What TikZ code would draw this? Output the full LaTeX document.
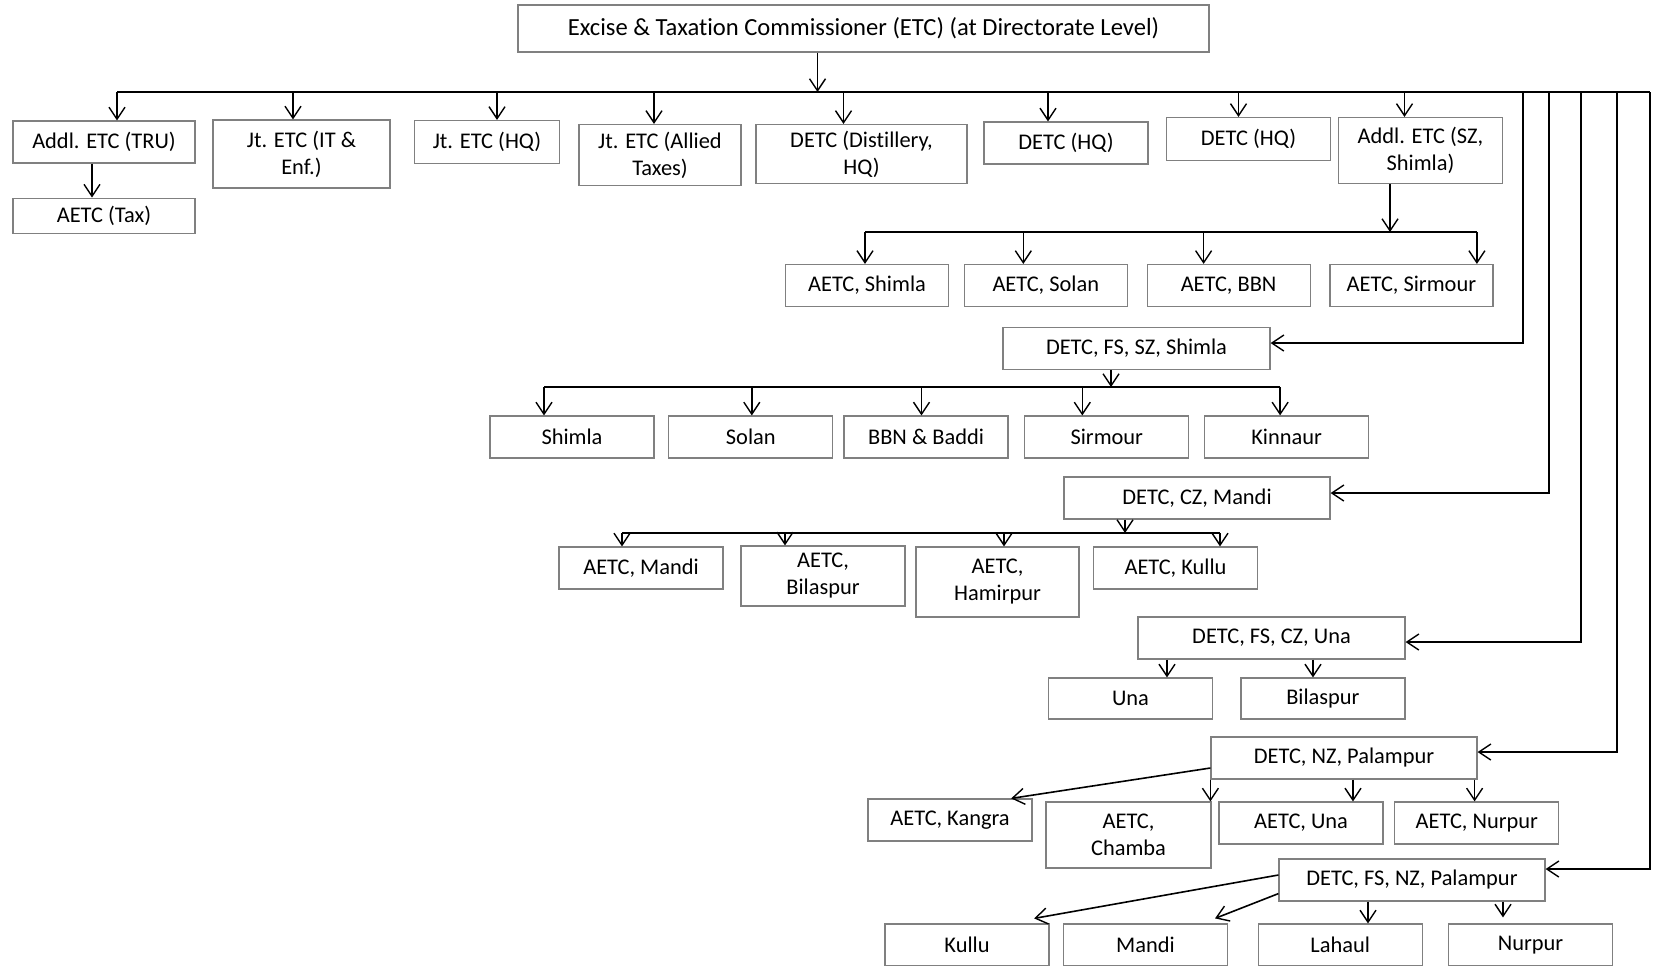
\documentclass[tikz,border=0pt]{standalone}
\usepackage{fontspec}
\setmainfont{Carlito}[Ligatures={NoCommon,NoContextual}]
\usetikzlibrary{arrows.meta,positioning}

\begin{document}
\begin{tikzpicture}[
    x=0.5pt, y=-0.5pt,
    node distance=8pt and 10pt,
    postbox/.style={draw=black!50, line width=0.6pt, rectangle, minimum width=82pt, minimum height=21pt, inner sep=1pt, font=\fontsize{11.2}{13.5}\selectfont, align=center},
    zonebox/.style={postbox, minimum width=133pt},
    wire/.style={line width=0.8pt},
    arrow/.style={wire, -{Straight Barb[length=6pt,width=8pt,line width=0.7pt]}}
]
\useasboundingbox (0,0) rectangle (1654,965);

% Directorate
\node[postbox, minimum width=345.5pt, minimum height=23.5pt, font=\fontsize{12.3}{14}\selectfont] (etc) at (863.5,28.5) {Excise \& Taxat\kern0pt ion Commissioner (ETC) (at Directorate Level)};

% First level
\node[postbox, minimum width=91pt] (tru) at (104,142) {Addl. ETC (TRU)};
\node[postbox, minimum width=91pt, minimum height=17.5pt, below=17pt of tru] (aetctax) {AETC (Tax)};
\node[postbox, minimum width=88.5pt, minimum height=34pt] (itenf) at (301.5,154) {Jt. ETC (IT \&\\Enf.)};
\node[postbox, minimum width=72.5pt, minimum height=21.5pt] (jthq) at (487,142) {Jt. ETC (HQ)};
\node[postbox, minimum width=81pt, minimum height=30.5pt] (allied) at (660,155) {Jt. ETC (Allied\\Taxes)};
\node[postbox, minimum width=105.5pt, minimum height=29.5pt] (distil) at (861.5,154) {DETC (Distillery,\\HQ)};
\node[postbox] (detchq) at (1066,143) {DETC (HQ)};
\node[postbox, minimum height=21.5pt] (detchqb) at (1248.5,139) {DETC (HQ)};
\node[postbox, minimum height=33pt] (addlsz) at (1420.5,150.5) {Addl. ETC (SZ,\\Shimla)};

% South zone AETCs
\node[postbox, minimum width=81.5pt] (aetcshimla) at (867,285.5) {AETC, Shimla};
\node[postbox, minimum width=81.5pt, right=7.3pt of aetcshimla] (aetcsolan) {AETC, Solan};
\node[postbox, minimum width=81.5pt, right=9.3pt of aetcsolan] (aetcbbn) {AETC, BBN};
\node[postbox, minimum width=81.5pt, right=9.3pt of aetcbbn] (aetcsirmour) {AETC, Sirmour};

% Flying squad, south zone
\node[zonebox, minimum width=133.5pt] (fssz) at (1136.5,348.5) {DETC, FS, SZ, Shimla};
\node[postbox] (shimla) at (572,437) {Shimla};
\node[postbox, right=6.8pt of shimla] (solan) {Solan};
\node[postbox, right=5pt of solan] (bbnbaddi) {BBN \& Baddi};
\node[postbox, right=7.8pt of bbnbaddi] (sirmour) {Sirmour};
\node[postbox, right=7.3pt of sirmour] (kinnaur) {Kinnaur};

% Central zone
\node[zonebox] (cz) at (1197,498) {DETC, CZ, Mandi};
\node[postbox] (aetcmandi) at (641,568) {AETC, Mandi};
\node[postbox, minimum height=30pt] (aetcbilaspur) at (823,576) {AETC,\\Bilaspur};
\node[postbox, minimum width=81.5pt, minimum height=35pt] (aetchamirpur) at (997.5,582) {AETC,\\Hamirpur};
\node[postbox] (aetckullu) at (1175.5,568) {AETC, Kullu};

% Flying squad, central zone
\node[zonebox, minimum width=133.5pt] (fscz) at (1271.5,638) {DETC, FS, CZ, Una};
\node[postbox, minimum height=20.5pt] (una) at (1130.5,698.5) {Una};
\node[postbox, minimum height=20.5pt, right=13.6pt of una] (bilaspur) {Bilaspur};

% North zone
\node[zonebox] (nz) at (1344,758) {DETC, NZ, Palampur};
\node[postbox] (kangra) at (950,820) {AETC, Kangra};
\node[postbox, minimum width=82.5pt, minimum height=33pt] (chamba) at (1128.5,835) {AETC,\\Chamba};
\node[postbox] (aetcuna) at (1301,823) {AETC, Una};
\node[postbox, right=5.3pt of aetcuna] (aetcnurpur) {AETC, Nurpur};

% Flying squad, north zone
\node[zonebox] (fsnz) at (1412,880) {DETC, FS, NZ, Palampur};
\node[postbox] (kullu) at (967,945) {Kullu};
\node[postbox, right=6.6pt of kullu] (mandi) {Mandi};
\node[postbox, right=14.8pt of mandi] (lahaul) {Lahaul};
\node[postbox, right=12.6pt of lahaul] (nurpur) {Nurpur};

% Main bus
\coordinate (busa) at (0,92);
\coordinate (feeda) at (1523,92);
\coordinate (feedb) at (1549,92);
\coordinate (feedc) at (1581,92);
\coordinate (feedd) at (1617,92);
\coordinate (feede) at (1650,92);
\draw[arrow] ([xshift=-23pt]etc.south) -- ([xshift=-23pt]etc.south |- busa);
\draw[wire] ([xshift=6.5pt]tru.north |- busa) -- (feede);
\draw[arrow] ([xshift=6.5pt]tru.north |- busa) -- ([xshift=6.5pt]tru.north);
\draw[arrow] ([xshift=-4.25pt]itenf.north |- busa) -- ([xshift=-4.25pt]itenf.north);
\draw[arrow] ([xshift=5pt]jthq.north |- busa) -- ([xshift=5pt]jthq.north);
\draw[arrow] ([xshift=-3pt]allied.north |- busa) -- ([xshift=-3pt]allied.north);
\draw[arrow] ([xshift=-9pt]distil.north |- busa) -- ([xshift=-9pt]distil.north);
\draw[arrow] ([xshift=-9pt]detchq.north |- busa) -- ([xshift=-9pt]detchq.north);
\draw[arrow] ([xshift=-5pt]detchqb.north |- busa) -- ([xshift=-5pt]detchqb.north);
\draw[arrow] ([xshift=-8pt]addlsz.north |- busa) -- ([xshift=-8pt]addlsz.north);
\draw[arrow] ([xshift=-6pt]tru.south) -- ([xshift=-6pt]aetctax.north);

% Feeders on the right
\draw[arrow] (feeda) |- ([yshift=2.75pt]fssz.east);
\draw[arrow] (feedb) |- ([yshift=2.5pt]cz.east);
\draw[arrow] (feedc) |- ([yshift=-2pt]fscz.east);
\draw[arrow] (feedd) |- ([yshift=3pt]nz.east);
\draw[arrow] (feede) |- ([yshift=5.5pt]fsnz.east);

% South zone links
\coordinate (busb) at (0,232);
\draw[arrow] ([xshift=-15.25pt]addlsz.south) -- ([xshift=-15.25pt]addlsz.south |- busb);
\draw[wire] ([xshift=-1pt]aetcshimla.north |- busb) -- ([xshift=32.75pt]aetcsirmour.north |- busb);
\draw[arrow] ([xshift=-1pt]aetcshimla.north |- busb) -- ([xshift=-1pt]aetcshimla.north);
\draw[arrow] ([xshift=-11.25pt]aetcsolan.north |- busb) -- ([xshift=-11.25pt]aetcsolan.north);
\draw[arrow] ([xshift=-12.5pt]aetcbbn.north |- busb) -- ([xshift=-12.5pt]aetcbbn.north);
\draw[arrow] ([xshift=32.75pt]aetcsirmour.north |- busb) -- ([xshift=32.75pt]aetcsirmour.north);

\coordinate (busc) at (0,387);
\draw[arrow] ([xshift=-12.75pt]fssz.south) -- ([xshift=-12.75pt]fssz.south |- busc);
\draw[wire] ([xshift=-14pt]shimla.north |- busc) -- ([xshift=-3.25pt]kinnaur.north |- busc);
\draw[arrow] ([xshift=-14pt]shimla.north |- busc) -- ([xshift=-14pt]shimla.north);
\draw[arrow] ([xshift=0.5pt]solan.north |- busc) -- ([xshift=0.5pt]solan.north);
\draw[arrow] ([xshift=-2.25pt]bbnbaddi.north |- busc) -- ([xshift=-2.25pt]bbnbaddi.north);
\draw[arrow] ([xshift=-12.25pt]sirmour.north |- busc) -- ([xshift=-12.25pt]sirmour.north);
\draw[arrow] ([xshift=-3.25pt]kinnaur.north |- busc) -- ([xshift=-3.25pt]kinnaur.north);

% Central zone links
\coordinate (busd) at (0,533);
\draw[arrow] ([xshift=-36pt]cz.south) -- ([xshift=-36pt]cz.south |- busd);
\draw[wire] ([xshift=-9.5pt]aetcmandi.north |- busd) -- ([xshift=22.25pt]aetckullu.north |- busd);
\draw[arrow] ([xshift=-9.5pt]aetcmandi.north |- busd) -- ([xshift=-9.5pt]aetcmandi.north);
\draw[arrow] ([xshift=-19pt]aetcbilaspur.north |- busd) -- ([xshift=-19pt]aetcbilaspur.north);
\draw[arrow] ([xshift=3.25pt]aetchamirpur.north |- busd) -- ([xshift=3.25pt]aetchamirpur.north);
\draw[arrow] ([xshift=22.25pt]aetckullu.north |- busd) -- ([xshift=22.25pt]aetckullu.north);
\draw[arrow] ([xshift=-52.25pt]fscz.south) -- ([xshift=-52.25pt]fscz.south |- una.north);
\draw[arrow] ([xshift=20.75pt]fscz.south) -- ([xshift=20.75pt]fscz.south |- bilaspur.north);

% North zone links
\draw[arrow] ([yshift=-5pt]nz.west) -- ([xshift=-10.75pt]kangra.north east);
\draw[arrow] (nz.south west) -- (nz.south west |- chamba.north);
\draw[arrow] ([xshift=4.5pt]nz.south) -- ([xshift=4.5pt]nz.south |- aetcuna.north);
\draw[arrow] ([xshift=-1.5pt]nz.south east) -- ([xshift=-1.5pt]nz.south east |- aetcnurpur.north);
\draw[arrow] ([yshift=2.5pt]fsnz.west) -- ([xshift=-7.75pt,yshift=2.5pt]kullu.north east);
\draw[arrow] ([yshift=4pt]fsnz.south west) -- ([xshift=-6.5pt,yshift=2.5pt]mandi.north east);
\draw[arrow] ([xshift=-22pt]fsnz.south) -- ([xshift=-22pt]fsnz.south |- lahaul.north);
\draw[arrow] ([xshift=45.5pt]fsnz.south) -- ([xshift=45.5pt,yshift=3pt]fsnz.south |- nurpur.north);
\end{tikzpicture}
\end{document}
